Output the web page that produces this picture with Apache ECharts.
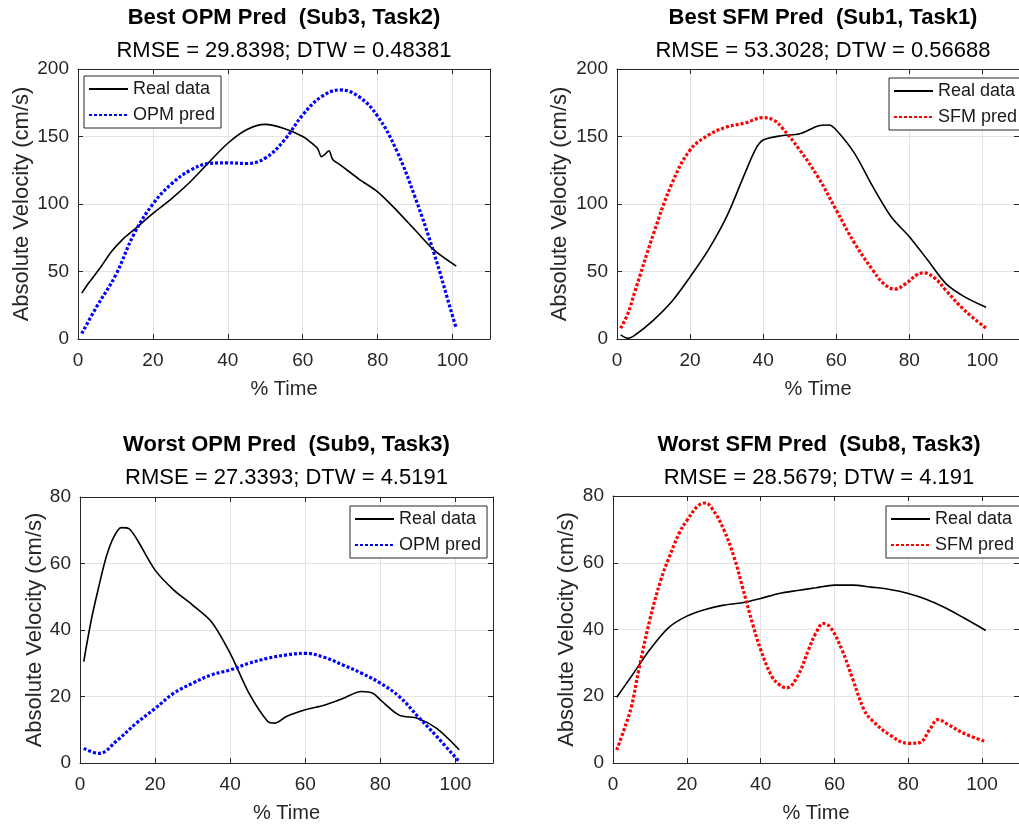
<!DOCTYPE html>
<html>
<head>
<meta charset="utf-8">
<script src="https://cdn.jsdelivr.net/npm/echarts@6/dist/echarts.min.js"></script>
<style>
html,body{margin:0;padding:0;background:#fff;}
#c{width:1019px;height:826px;}
</style>
</head>
<body>
<div id="c"></div>
<script>
// ---------- Data (x = % Time, y = Absolute Velocity cm/s) ----------
// Top-left: Best OPM Pred (Sub3, Task2)
const tlRealX = [1, 3, 6, 9, 12, 15, 20, 25, 30, 35, 40, 45, 50, 55, 60, 62, 64, 65, 66, 67, 68, 70, 75, 80, 85, 90, 95, 101];
const tlRealY = [34, 42, 53, 65, 74, 81, 93, 104, 116.5, 131, 145, 155, 159, 156, 150, 146, 141, 135, 137, 139.5, 133, 129, 118.5, 109, 95.5, 80.7, 66, 54];
const tlPredX = [1, 5, 10, 15, 20, 25, 30, 35, 40, 45, 50, 55, 60, 65, 70, 75, 80, 85, 90, 95, 100, 101];
const tlPredY = [4, 24, 47, 78, 100, 115, 125, 130, 130.5, 130, 134, 147, 166, 179.5, 184.5, 179.5, 165, 140, 105, 64, 17, 8];

// Top-right: Best SFM Pred (Sub1, Task1)
const trRealX = [1, 3, 5, 10, 15, 20, 25, 30, 35, 38, 40, 45, 50, 55, 58, 60, 65, 70, 75, 80, 85, 90, 95, 101];
const trRealY = [3, 0.5, 3, 14, 27.7, 46, 66, 90.6, 122.7, 141, 147.4, 150.6, 152, 157.8, 158.5, 154.8, 137.5, 112.8, 90.6, 75.8, 58.5, 41, 31.4, 23.5];
const trPredX = [1, 3, 5, 10, 15, 20, 25, 30, 35, 40, 43, 45, 50, 55, 60, 65, 70, 73, 76, 79, 82, 84, 87, 90, 95, 101];
const trPredY = [8, 19, 36, 78, 115, 140, 151, 157, 160, 164, 162, 157, 140, 120, 95.5, 71, 51, 41, 37, 41, 47.5, 49, 45, 36, 21.5, 8];

// Bottom-left: Worst OPM Pred (Sub9, Task3)
const blRealX = [1, 3, 5, 7, 9, 11, 13, 15, 20, 25, 30, 35, 40, 45, 50, 52, 55, 60, 65, 70, 75, 78, 80, 85, 90, 95, 101];
const blRealY = [30.5, 43, 53, 62, 68, 70.8, 70.5, 67.6, 58, 52, 47.5, 42.5, 33, 21, 12.5, 12, 14, 16, 17.4, 19.4, 21.5, 21, 19, 14.4, 13.4, 10.4, 4];
const blPredX = [1, 5, 10, 15, 20, 25, 30, 35, 40, 45, 50, 55, 60, 65, 70, 75, 80, 85, 90, 95, 101];
const blPredY = [4.4, 2.9, 6.9, 12, 16.4, 21, 24, 26.5, 28, 30, 31.5, 32.5, 33, 31.8, 29.5, 27, 24, 20, 14, 8, 0.4];

// Bottom-right: Worst SFM Pred (Sub8, Task3)
const brRealX = [1, 5, 10, 15, 20, 25, 30, 35, 40, 45, 50, 55, 60, 65, 70, 75, 80, 85, 90, 95, 101];
const brRealY = [19.7, 26, 34, 40.5, 44, 46, 47.3, 48, 49.3, 50.8, 51.7, 52.5, 53.3, 53.3, 52.7, 52, 50.8, 49, 46.5, 43.5, 39.7];
const brPredX = [1, 3, 5, 7, 10, 13, 15, 18, 20, 23, 25, 27, 30, 33, 35, 38, 40, 43, 45, 47, 50, 53, 55, 57, 59, 62, 65, 68, 70, 75, 80, 83, 86, 88, 91, 95, 101];
const brPredY = [3.9, 10, 17, 28, 43, 55, 61, 69, 72.6, 77, 77.9, 76, 70, 61, 53, 41, 34, 26, 23.5, 22.5, 26, 34, 39, 41.8, 40.5, 34, 25, 16, 13, 8.4, 5.9, 6.1, 10.4, 13, 11.4, 8.9, 6.4];

// Texts
const titles = ['Best OPM Pred  (Sub3, Task2)', 'Best SFM Pred  (Sub1, Task1)', 'Worst OPM Pred  (Sub9, Task3)', 'Worst SFM Pred  (Sub8, Task3)'];
const subtitles = ['RMSE = 29.8398; DTW = 0.48381', 'RMSE = 53.3028; DTW = 0.56688', 'RMSE = 27.3393; DTW = 4.5191', 'RMSE = 28.5679; DTW = 4.191'];
const predNames = ['OPM pred', 'SFM pred', 'OPM pred', 'SFM pred'];
const realName = 'Real data';
const xName = '% Time';
const yName = 'Absolute Velocity (cm/s)';
const xTicks = {min: 0, max: 110, interval: 20};
const yTicksTop = {min: 0, max: 200, interval: 50};
const yTicksBottom = {min: 0, max: 80, interval: 20};

// ---------- Layout / style ----------
const F = '"Liberation Sans", Arial, Helvetica, sans-serif';
const AX = '#262626';
const GRIDC = '#e3e3e3';
const predColors = ['#0000ff', '#ff0000', '#0000ff', '#ff0000'];
const grids = [
  {left: 78, top: 69, width: 412, height: 270},
  {left: 617, top: 69, width: 412, height: 270},
  {left: 80, top: 497, width: 413, height: 266},
  {left: 613, top: 496, width: 412, height: 267}
];
const yNameGaps = [45, 46, 34, 35];
const titleTops = [[7, 40], [7, 40], [434, 467], [434, 467]];
const legendPos = [
  {left: 84, top: 76}, {left: 889, top: 78}, {left: 350, top: 506}, {left: 886, top: 506}
];
const yTicks = [yTicksTop, yTicksTop, yTicksBottom, yTicksBottom];

function pairs(xs, ys) { return xs.map((x, i) => [x, ys[i]]); }
const realData = [pairs(tlRealX, tlRealY), pairs(trRealX, trRealY), pairs(blRealX, blRealY), pairs(brRealX, brRealY)];
const predData = [pairs(tlPredX, tlPredY), pairs(trPredX, trPredY), pairs(blPredX, blPredY), pairs(brPredX, brPredY)];

const xAxis = [], yAxis = [], series = [], legend = [], graphic = [];
grids.forEach((g, i) => {
  const lineBase = {show: true, onZero: false, lineStyle: {color: AX, width: 1}};
  const tickBase = {show: true, inside: true, length: 5, lineStyle: {color: AX, width: 1}};
  xAxis.push({
    type: 'value', gridIndex: i, position: 'bottom', min: xTicks.min, max: xTicks.max, interval: xTicks.interval,
    name: xName, nameLocation: 'middle', nameGap: 40,
    nameTextStyle: {fontSize: 20, color: AX, fontFamily: F},
    axisLine: lineBase, axisTick: tickBase,
    axisLabel: {fontSize: 19, color: AX, margin: 12, fontFamily: F, showMaxLabel: false},
    splitLine: {show: true, lineStyle: {color: GRIDC, width: 1}}
  });
  xAxis.push({
    type: 'value', gridIndex: i, position: 'top', min: xTicks.min, max: xTicks.max, interval: xTicks.interval,
    axisLine: lineBase, axisTick: tickBase, axisLabel: {show: false}, splitLine: {show: false}
  });
  const yt = yTicks[i];
  yAxis.push({
    type: 'value', gridIndex: i, position: 'left', min: yt.min, max: yt.max, interval: yt.interval,
    name: yName, nameLocation: 'middle', nameGap: yNameGaps[i], nameRotate: 90,
    nameTextStyle: {fontSize: 22, color: AX, fontFamily: F},
    axisLine: lineBase, axisTick: tickBase,
    axisLabel: {fontSize: 19, color: AX, margin: 9, fontFamily: F},
    splitLine: {show: true, lineStyle: {color: GRIDC, width: 1}}
  });
  yAxis.push({
    type: 'value', gridIndex: i, position: 'right', min: yt.min, max: yt.max, interval: yt.interval,
    axisLine: lineBase, axisTick: tickBase, axisLabel: {show: false}, splitLine: {show: false}
  });
  series.push({
    type: 'line', name: realName, xAxisIndex: 2 * i, yAxisIndex: 2 * i,
    data: realData[i], symbol: 'none', smooth: 0.3, z: 3,
    lineStyle: {color: '#000', width: 1.6}, itemStyle: {color: '#000'}
  });
  series.push({
    type: 'line', name: predNames[i], xAxisIndex: 2 * i, yAxisIndex: 2 * i,
    data: predData[i], symbol: 'none', smooth: 0.4, z: 4,
    lineStyle: {color: predColors[i], width: 3.2, type: [3, 2]}, itemStyle: {color: predColors[i]}
  });
  legend.push({
    left: legendPos[i].left, top: legendPos[i].top, orient: 'vertical',
    data: [realName, predNames[i]], selectedMode: false,
    itemWidth: 39, itemHeight: 17, itemGap: 8, padding: [4, 6, 4, 4],
    itemStyle: {opacity: 0},
    borderColor: AX, borderWidth: 1, backgroundColor: '#fff',
    textStyle: {fontSize: 18, color: '#1a1a1a', fontFamily: F}
  });
  const cx = g.left + g.width / 2;
  graphic.push({
    type: 'text', x: cx, y: titleTops[i][0],
    style: {text: titles[i], textAlign: 'center', textVerticalAlign: 'top', font: 'bold 22px ' + F, fill: '#000'}
  });
  graphic.push({
    type: 'text', x: cx, y: titleTops[i][1],
    style: {text: subtitles[i], textAlign: 'center', textVerticalAlign: 'top', font: '22px ' + F, fill: '#000'}
  });
});

const chart = echarts.init(document.getElementById('c'), null, {renderer: 'canvas'});
chart.setOption({
  animation: false,
  backgroundColor: '#fff',
  grid: grids.map(g => Object.assign({containLabel: false}, g)),
  xAxis, yAxis, series, legend, graphic
});
</script>
</body>
</html>
